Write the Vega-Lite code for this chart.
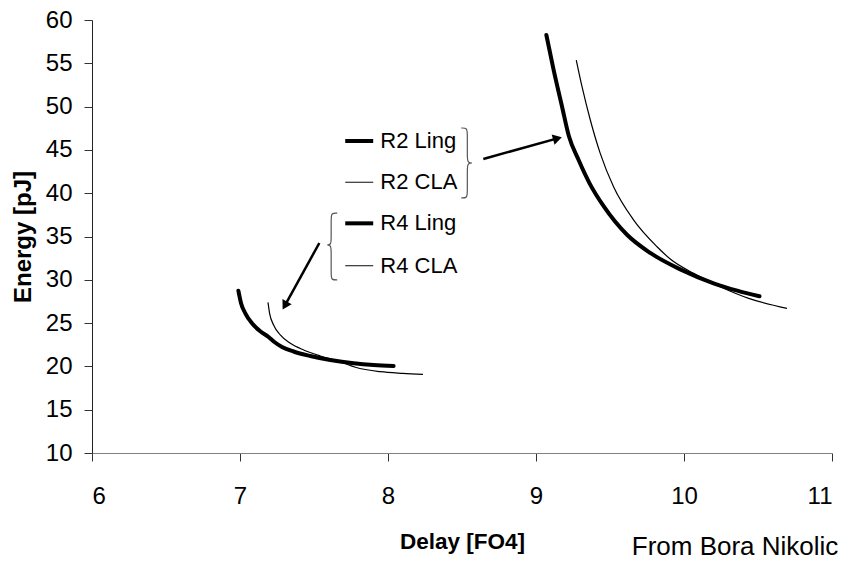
{
  "$schema": "https://vega.github.io/schema/vega-lite/v6.json",
  "width": 740,
  "height": 433,
  "autosize": "none",
  "padding": {"left": 92, "top": 20, "right": 15, "bottom": 110},
  "background": "white",
  "config": {
    "view": {"stroke": null},
    "font": "Liberation Sans",
    "axis": {"grid": false, "labelFont": "Liberation Sans", "titleFont": "Liberation Sans", "labelColor": "#000", "titleColor": "#000", "tickColor": "#333", "domainColor": "#333"}
  },
  "datasets": {
    "curves": [
      {"series": "R4 Ling", "type": "Ling", "i": 1, "delay": 6.989, "energy": 28.74},
      {"series": "R4 Ling", "type": "Ling", "i": 2, "delay": 7.007, "energy": 27.29},
      {"series": "R4 Ling", "type": "Ling", "i": 3, "delay": 7.036, "energy": 26.13},
      {"series": "R4 Ling", "type": "Ling", "i": 4, "delay": 7.081, "energy": 24.98},
      {"series": "R4 Ling", "type": "Ling", "i": 5, "delay": 7.137, "energy": 24.05},
      {"series": "R4 Ling", "type": "Ling", "i": 6, "delay": 7.193, "energy": 23.4},
      {"series": "R4 Ling", "type": "Ling", "i": 7, "delay": 7.23, "energy": 22.85},
      {"series": "R4 Ling", "type": "Ling", "i": 8, "delay": 7.284, "energy": 22.25},
      {"series": "R4 Ling", "type": "Ling", "i": 9, "delay": 7.362, "energy": 21.72},
      {"series": "R4 Ling", "type": "Ling", "i": 10, "delay": 7.475, "energy": 21.2},
      {"series": "R4 Ling", "type": "Ling", "i": 11, "delay": 7.61, "energy": 20.74},
      {"series": "R4 Ling", "type": "Ling", "i": 12, "delay": 7.768, "energy": 20.36},
      {"series": "R4 Ling", "type": "Ling", "i": 13, "delay": 7.903, "energy": 20.16},
      {"series": "R4 Ling", "type": "Ling", "i": 14, "delay": 8.038, "energy": 20.05},
      {"series": "R4 CLA", "type": "CLA", "i": 1, "delay": 7.189, "energy": 27.4},
      {"series": "R4 CLA", "type": "CLA", "i": 2, "delay": 7.2, "energy": 26.13},
      {"series": "R4 CLA", "type": "CLA", "i": 3, "delay": 7.227, "energy": 24.78},
      {"series": "R4 CLA", "type": "CLA", "i": 4, "delay": 7.272, "energy": 23.63},
      {"series": "R4 CLA", "type": "CLA", "i": 5, "delay": 7.34, "energy": 22.67},
      {"series": "R4 CLA", "type": "CLA", "i": 6, "delay": 7.43, "energy": 21.9},
      {"series": "R4 CLA", "type": "CLA", "i": 7, "delay": 7.543, "energy": 21.2},
      {"series": "R4 CLA", "type": "CLA", "i": 8, "delay": 7.678, "energy": 20.54},
      {"series": "R4 CLA", "type": "CLA", "i": 9, "delay": 7.78, "energy": 19.9},
      {"series": "R4 CLA", "type": "CLA", "i": 10, "delay": 7.948, "energy": 19.39},
      {"series": "R4 CLA", "type": "CLA", "i": 11, "delay": 8.1, "energy": 19.2},
      {"series": "R4 CLA", "type": "CLA", "i": 12, "delay": 8.236, "energy": 19.09},
      {"series": "R2 Ling", "type": "Ling", "i": 1, "delay": 9.07, "energy": 58.27},
      {"series": "R2 Ling", "type": "Ling", "i": 2, "delay": 9.119, "energy": 54.23},
      {"series": "R2 Ling", "type": "Ling", "i": 3, "delay": 9.176, "energy": 49.99},
      {"series": "R2 Ling", "type": "Ling", "i": 4, "delay": 9.222, "energy": 46.6},
      {"series": "R2 Ling", "type": "Ling", "i": 5, "delay": 9.288, "energy": 43.83},
      {"series": "R2 Ling", "type": "Ling", "i": 6, "delay": 9.362, "energy": 41.14},
      {"series": "R2 Ling", "type": "Ling", "i": 7, "delay": 9.457, "energy": 38.5},
      {"series": "R2 Ling", "type": "Ling", "i": 8, "delay": 9.615, "energy": 35.2},
      {"series": "R2 Ling", "type": "Ling", "i": 9, "delay": 9.772, "energy": 33.1},
      {"series": "R2 Ling", "type": "Ling", "i": 10, "delay": 9.975, "energy": 31.2},
      {"series": "R2 Ling", "type": "Ling", "i": 11, "delay": 10.2, "energy": 29.6},
      {"series": "R2 Ling", "type": "Ling", "i": 12, "delay": 10.36, "energy": 28.75},
      {"series": "R2 Ling", "type": "Ling", "i": 13, "delay": 10.51, "energy": 28.1},
      {"series": "R2 CLA", "type": "CLA", "i": 1, "delay": 9.272, "energy": 55.38},
      {"series": "R2 CLA", "type": "CLA", "i": 2, "delay": 9.311, "energy": 52.3},
      {"series": "R2 CLA", "type": "CLA", "i": 3, "delay": 9.367, "energy": 48.45},
      {"series": "R2 CLA", "type": "CLA", "i": 4, "delay": 9.434, "energy": 44.6},
      {"series": "R2 CLA", "type": "CLA", "i": 5, "delay": 9.524, "energy": 40.75},
      {"series": "R2 CLA", "type": "CLA", "i": 6, "delay": 9.66, "energy": 36.9},
      {"series": "R2 CLA", "type": "CLA", "i": 7, "delay": 9.818, "energy": 33.82},
      {"series": "R2 CLA", "type": "CLA", "i": 8, "delay": 9.907, "energy": 32.4},
      {"series": "R2 CLA", "type": "CLA", "i": 9, "delay": 10.065, "energy": 30.75},
      {"series": "R2 CLA", "type": "CLA", "i": 10, "delay": 10.245, "energy": 29.2},
      {"series": "R2 CLA", "type": "CLA", "i": 11, "delay": 10.437, "energy": 27.86},
      {"series": "R2 CLA", "type": "CLA", "i": 12, "delay": 10.696, "energy": 26.71}
    ],
    "samples": [
      {"series": "R2 Ling", "type": "Ling", "i": 1, "delay": 7.711, "energy": 46.03},
      {"series": "R2 Ling", "type": "Ling", "i": 2, "delay": 7.9, "energy": 46.03},
      {"series": "R2 CLA", "type": "CLA", "i": 1, "delay": 7.711, "energy": 41.26},
      {"series": "R2 CLA", "type": "CLA", "i": 2, "delay": 7.9, "energy": 41.26},
      {"series": "R4 Ling", "type": "Ling", "i": 1, "delay": 7.711, "energy": 36.52},
      {"series": "R4 Ling", "type": "Ling", "i": 2, "delay": 7.9, "energy": 36.52},
      {"series": "R4 CLA", "type": "CLA", "i": 1, "delay": 7.711, "energy": 31.63},
      {"series": "R4 CLA", "type": "CLA", "i": 2, "delay": 7.9, "energy": 31.63}
    ],
    "labels": [
      {"label": "R2 Ling", "delay": 7.948, "energy": 46.03},
      {"label": "R2 CLA", "delay": 7.948, "energy": 41.26},
      {"label": "R4 Ling", "delay": 7.948, "energy": 36.52},
      {"label": "R4 CLA", "delay": 7.948, "energy": 31.63}
    ],
    "braces": [
      {"brace": "R2", "i": 1, "delay": 8.495, "energy": 47.53},
      {"brace": "R2", "i": 2, "delay": 8.536, "energy": 47.53},
      {"brace": "R2", "i": 3, "delay": 8.536, "energy": 46.84},
      {"brace": "R2", "i": 4, "delay": 8.536, "energy": 44.18},
      {"brace": "R2", "i": 5, "delay": 8.536, "energy": 43.49},
      {"brace": "R2", "i": 6, "delay": 8.583, "energy": 43.49},
      {"brace": "R2", "i": 7, "delay": 8.536, "energy": 43.49},
      {"brace": "R2", "i": 8, "delay": 8.536, "energy": 42.79},
      {"brace": "R2", "i": 9, "delay": 8.536, "energy": 40.14},
      {"brace": "R2", "i": 10, "delay": 8.536, "energy": 39.45},
      {"brace": "R2", "i": 11, "delay": 8.495, "energy": 39.45},
      {"brace": "R4", "i": 1, "delay": 7.657, "energy": 37.71},
      {"brace": "R4", "i": 2, "delay": 7.616, "energy": 37.71},
      {"brace": "R4", "i": 3, "delay": 7.616, "energy": 37.02},
      {"brace": "R4", "i": 4, "delay": 7.616, "energy": 34.71},
      {"brace": "R4", "i": 5, "delay": 7.616, "energy": 34.02},
      {"brace": "R4", "i": 6, "delay": 7.576, "energy": 34.02},
      {"brace": "R4", "i": 7, "delay": 7.616, "energy": 34.02},
      {"brace": "R4", "i": 8, "delay": 7.616, "energy": 33.33},
      {"brace": "R4", "i": 9, "delay": 7.616, "energy": 30.67},
      {"brace": "R4", "i": 10, "delay": 7.616, "energy": 29.98},
      {"brace": "R4", "i": 11, "delay": 7.657, "energy": 29.98}
    ],
    "arrows": [
      {"arrow": "R2", "i": 1, "delay": 8.644, "energy": 43.95},
      {"arrow": "R2", "i": 2, "delay": 9.145, "energy": 46.33},
      {"arrow": "R4", "i": 1, "delay": 7.536, "energy": 34.25},
      {"arrow": "R4", "i": 2, "delay": 7.303, "energy": 27.02}
    ],
    "credit": [
      {"label": "From Bora Nikolic", "delay": 11.043, "energy": -1.78}
    ]
  },
  "encoding": {
    "x": {
      "field": "delay", "type": "quantitative",
      "scale": {"domain": [6, 11], "nice": false, "zero": false},
      "axis": {
        "values": [6, 7, 8, 9, 10, 11], "format": "d",
        "tickSize": 8, "labelPadding": 23, "labelFontSize": 24,
        "domainColor": "#808080",
        "title": "Delay [FO4]", "titleFontSize": 22.5, "titleFontWeight": "bold",
        "titleBaseline": "alphabetic", "titleY": 95
      }
    },
    "y": {
      "field": "energy", "type": "quantitative",
      "scale": {"domain": [10, 60], "nice": false, "zero": false},
      "axis": {
        "values": [10, 15, 20, 25, 30, 35, 40, 45, 50, 55, 60], "format": "d",
        "tickSize": 8, "labelPadding": 12, "labelFontSize": 24,
        "domainColor": "#222",
        "title": "Energy [pJ]", "titleFontSize": 24, "titleFontWeight": "bold",
        "titleAngle": -90, "titleBaseline": "middle", "titleAlign": "center",
        "titleX": -69, "titleY": 216.5
      }
    }
  },
  "layer": [
    {
      "data": {"name": "curves"},
      "transform": [{"filter": "datum.type == 'CLA'"}],
      "mark": {"type": "line", "color": "#000", "strokeWidth": 1.2, "interpolate": "monotone"},
      "encoding": {"detail": {"field": "series"}, "order": {"field": "i"}}
    },
    {
      "data": {"name": "curves"},
      "transform": [{"filter": "datum.type == 'Ling'"}],
      "mark": {"type": "line", "color": "#000", "strokeWidth": 4, "interpolate": "monotone", "strokeCap": "round"},
      "encoding": {"detail": {"field": "series"}, "order": {"field": "i"}}
    },
    {
      "data": {"name": "samples"},
      "transform": [{"filter": "datum.type == 'Ling'"}],
      "mark": {"type": "line", "color": "#000", "strokeWidth": 4},
      "encoding": {"detail": {"field": "series"}, "order": {"field": "i"}}
    },
    {
      "data": {"name": "samples"},
      "transform": [{"filter": "datum.type == 'CLA'"}],
      "mark": {"type": "line", "color": "#333", "strokeWidth": 1.2},
      "encoding": {"detail": {"field": "series"}, "order": {"field": "i"}}
    },
    {
      "data": {"name": "braces"},
      "mark": {"type": "line", "color": "#555", "strokeWidth": 1.2, "interpolate": "basis"},
      "encoding": {"detail": {"field": "brace"}, "order": {"field": "i"}}
    },
    {
      "data": {"name": "arrows"},
      "mark": {"type": "line", "color": "#000", "strokeWidth": 2.5},
      "encoding": {"detail": {"field": "arrow"}, "order": {"field": "i"}}
    },
    {
      "data": {"name": "arrows"},
      "transform": [{"filter": "datum.arrow == 'R2' && datum.i == 2"}],
      "mark": {"type": "point", "shape": "triangle-up", "filled": true, "color": "#000", "size": 110, "angle": 74, "opacity": 1}
    },
    {
      "data": {"name": "arrows"},
      "transform": [{"filter": "datum.arrow == 'R4' && datum.i == 2"}],
      "mark": {"type": "point", "shape": "triangle-up", "filled": true, "color": "#000", "size": 110, "angle": 209, "opacity": 1}
    },
    {
      "data": {"name": "labels"},
      "mark": {"type": "text", "align": "left", "baseline": "middle", "fontSize": 22, "color": "#000", "font": "Liberation Sans"},
      "encoding": {"text": {"field": "label"}}
    },
    {
      "data": {"name": "credit"},
      "mark": {"type": "text", "align": "right", "baseline": "alphabetic", "fontSize": 26, "color": "#000", "font": "Liberation Sans"},
      "encoding": {"text": {"field": "label"}}
    }
  ]
}
